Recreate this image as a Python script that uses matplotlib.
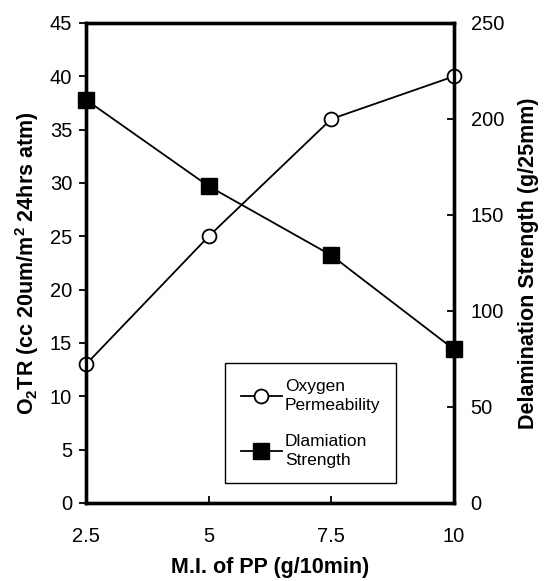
import matplotlib
matplotlib.use("Agg")
import matplotlib.pyplot as plt

plt.rcParams['font.family'] = ['Liberation Sans', 'DejaVu Sans']
plt.rcParams['mathtext.fontset'] = 'custom'
plt.rcParams['mathtext.rm'] = 'Liberation Sans:bold'
plt.rcParams['mathtext.bf'] = 'Liberation Sans:bold'
plt.rcParams['mathtext.default'] = 'bf'

mi = [2.5, 5, 7.5, 10]
xtick_labels = ['2.5', '5', '7.5', '10']
oxygen = [13, 25, 36, 40]
delam = [210, 165, 129, 80]

W, H = 544, 581
L, R, T, B = 86, 454, 23, 503
fig = plt.figure(figsize=(W/100, H/100), dpi=100)
ax = fig.add_axes([L/W, 1 - B/H, (R-L)/W, (B-T)/H])
ax2 = ax.twinx()

l1, = ax.plot(mi, oxygen, color='black', lw=1.3, marker='o', ms=10,
              mfc='white', mec='black', mew=1.3, clip_on=False, zorder=5,
              label='Oxygen\nPermeability')
l2, = ax2.plot(mi, delam, color='black', lw=1.3, marker='s', ms=11,
               mfc='black', mec='black', clip_on=False, zorder=5,
               label='Dlamiation\nStrength')

ax.set_xlim(2.5, 10)
ax.set_ylim(0, 45)
ax.set_yticks(range(0, 46, 5))
ax.set_xticks(mi)
ax.set_xticklabels(xtick_labels)
ax2.set_ylim(0, 250)
ax2.set_yticks(range(0, 251, 50))

for a in (ax, ax2):
    for s in a.spines.values():
        s.set_linewidth(2.4)

ax.tick_params(axis='y', direction='out', length=5, width=1.3, labelsize=14.5, pad=5)
ax.tick_params(axis='x', direction='in', length=5, width=1.3, labelsize=14.5, pad=17)
ax2.tick_params(axis='y', direction='in', length=5, width=1.3, labelsize=14.5, pad=12)

ax.set_xlabel('M.I. of PP (g/10min)', fontsize=15.5, fontweight='bold', labelpad=8)
ax.set_ylabel(r'O$_2$TR (cc 20um/m$^2$ 24hrs atm)', fontsize=15.5, fontweight='bold', labelpad=6)
ax2.set_ylabel('Delamination Strength (g/25mm)', fontsize=15.5, fontweight='bold', labelpad=10)

leg = ax2.legend([l1, l2], [l1.get_label(), l2.get_label()],
                 loc='upper left', bbox_to_anchor=((225-L)/(R-L), (B-363)/(B-T)),
                 fontsize=12.5, frameon=True, fancybox=False, edgecolor='black',
                 framealpha=1, handlelength=2.4, labelspacing=1.2, borderpad=0.9,
                 handletextpad=0.15, borderaxespad=0)
for t in leg.get_texts():
    t.set_linespacing(1.35)
leg.get_frame().set_linewidth(1.0)

fig.savefig('out.png', dpi=100)
